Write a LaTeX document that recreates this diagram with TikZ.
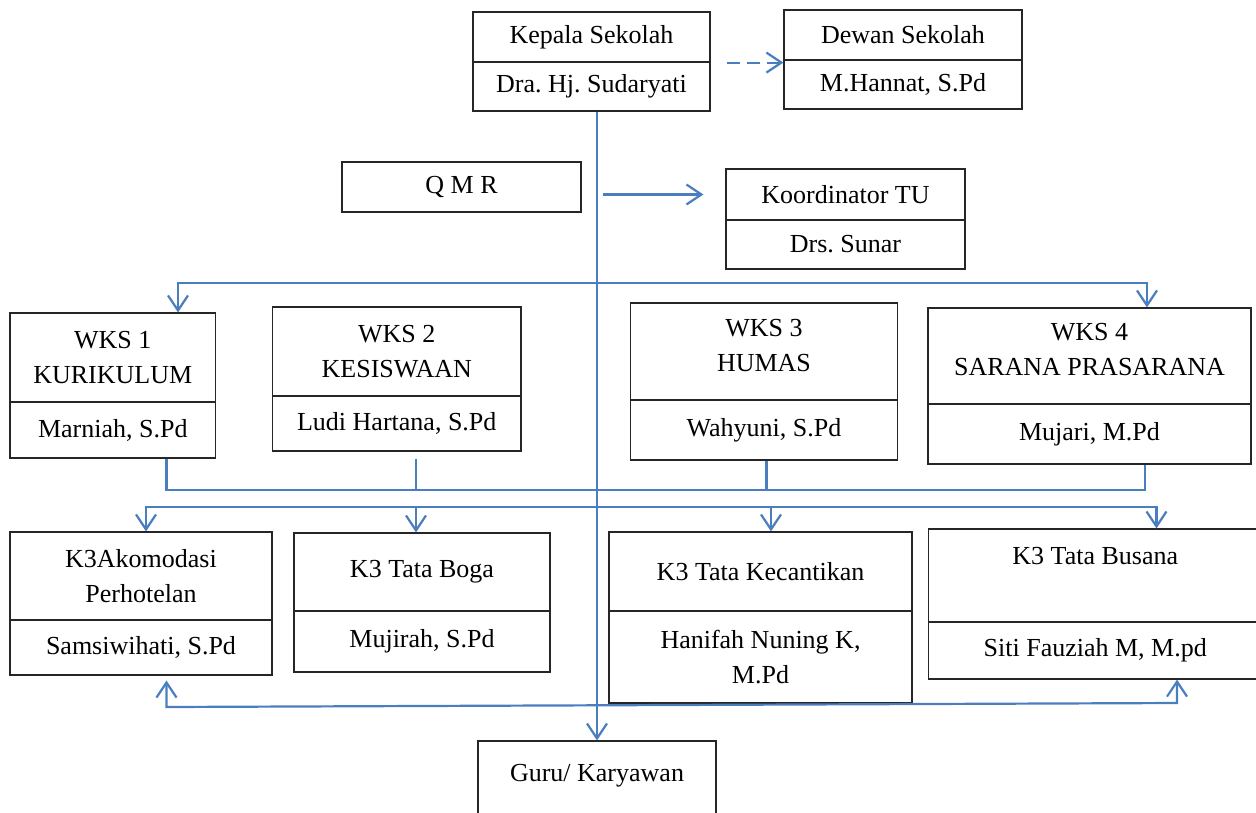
\documentclass[tikz,border=0pt]{standalone}
\usepackage{fontspec}
\setmainfont{Liberation Serif}
\usetikzlibrary{arrows.meta,calc}
\definecolor{linkblue}{RGB}{74,126,190}
\tikzset{every picture/.style={line width=0.75pt}}
\frenchspacing

\begin{document}
\begin{tikzpicture}[x=1pt,y=1pt,yscale=-1,xscale=1,
  >={Straight Barb[length=15pt,width=20pt]},
  cell/.style={draw=black!85,line width=1.2pt,rectangle,inner sep=0pt,align=center,font=\fontsize{26}{35}\selectfont},
  link/.style={draw=linkblue,line width=2.2pt}]
\useasboundingbox (0,0) rectangle (1256,812);

%Shape: Kepala / Dewan
\node[cell,minimum width=237pt,minimum height=50pt] (kepala) at (591.5,37) {Kepala Sekolah};
\node[cell,minimum width=237pt,minimum height=49pt] (kepalaN) at (591.5,86.5) {Dra. Hj. Sudaryati};
\node[cell,minimum width=238pt,minimum height=50pt] (dewan) at (903,35) {Dewan Sekolah};
\node[cell,minimum width=238pt,minimum height=49pt] (dewanN) at (903,84.5) {M.Hannat, S.Pd};
%Shape: QMR / TU
\node[cell,minimum width=239pt,minimum height=50pt] (qmr) at (461.5,187) {Q M R};
\node[cell,minimum width=239pt,minimum height=51pt] (koord) at (845.5,194.5) {Koordinator TU};
\node[cell,minimum width=239pt,minimum height=49pt] (koordN) at (845.5,244.5) {Drs. Sunar};
%Shape: WKS
\node[cell,minimum width=205.5pt,minimum height=89pt] (wks1) at (112.75,357.5) {WKS 1\\KURIKULUM};
\node[cell,minimum width=205.5pt,minimum height=56pt] (wks1N) at (112.75,430) {Marniah, S.Pd};
\node[cell,minimum width=248.5pt,minimum height=89pt] (wks2) at (396.75,351.5) {WKS 2\\KESISWAAN};
\node[cell,minimum width=248.5pt,minimum height=55pt] (wks2N) at (396.75,423.5) {Ludi Hartana, S.Pd};
\node[cell,minimum width=267pt,minimum height=97pt,text depth=12pt] (wks3) at (764,351.5) {WKS 3\\HUMAS};
\node[cell,minimum width=267pt,minimum height=60pt] (wks3N) at (764,430) {Wahyuni, S.Pd};
\node[cell,minimum width=323pt,minimum height=96pt,text depth=14pt] (wks4) at (1089.5,356) {WKS 4\\SARANA PRASARANA};
\node[cell,minimum width=323pt,minimum height=60pt] (wks4N) at (1089.5,434) {Mujari, M.Pd};
%Shape: K3
\node[cell,minimum width=262pt,minimum height=88pt] (k3a) at (141,576) {K3Akomodasi\\Perhotelan};
\node[cell,minimum width=262pt,minimum height=55pt] (k3aN) at (141,647.5) {Samsiwihati, S.Pd};
\node[cell,minimum width=256pt,minimum height=78pt] (k3b) at (422,572) {K3 Tata Boga};
\node[cell,minimum width=256pt,minimum height=61pt] (k3bN) at (422,641.5) {Mujirah, S.Pd};
\node[cell,minimum width=303pt,minimum height=79pt] (k3c) at (760.5,571.5) {K3 Tata Kecantikan};
\node[cell,minimum width=303pt,minimum height=92pt] (k3cN) at (760.5,657) {Hanifah Nuning K,\\M.Pd};
\node[cell,minimum width=333.5pt,minimum height=93pt,text height=18pt,text depth=40pt] (k3d) at (1095.25,575.5) {K3 Tata Busana};
\node[cell,minimum width=333.5pt,minimum height=57pt] (k3dN) at (1095.25,650.5) {Siti Fauziah M, M.pd};
%Shape: Guru
\node[cell,minimum width=238pt,minimum height=80pt,text height=18pt,text depth=18pt] (guru) at (597,781) {Guru/ Karyawan};

%Bus points
\coordinate (topbusW) at (178,283);
\coordinate (topbusE) at (1147,283);
\coordinate (midbusW) at (166.5,490);
\coordinate (midbusE) at (1145,490);
\coordinate (drop2) at (416,490);
\coordinate (drop3) at (766.5,490);
\coordinate (lowbusW) at (146,507);
\coordinate (lowbusE) at (1156.5,507);
\coordinate (tap2) at (416,507);
\coordinate (tap3) at (771,507);
\coordinate (footW) at (166.5,707);
\coordinate (footE) at (1177,703);

%Straight Lines
\draw[link,->,dash pattern=on 13pt off 7pt] ($(kepala.south east)+(16,0)$) -- (dewan.south west |- kepala.south east);
\draw[link,->] (kepalaN.south -| guru.north) -- (guru.north);
\draw[link,->] ($(guru.north |- koord.west)+(6,0)$) -- ($(koord.west)+(-22,0)$);
\draw[link,<->] (topbusW |- wks1.north) -- (topbusW) -- (topbusE) -- (topbusE |- wks4.north);
\draw[link] (midbusW |- wks1N.south) -- (midbusW) -- (midbusE) -- (midbusE |- wks4N.south);
\draw[link] ($(drop2 |- wks2N.south)+(0,7)$) -- (drop2);
\draw[link] (drop3 |- wks3N.south) -- (drop3);
\draw[link,<->] (lowbusW |- k3a.north) -- (lowbusW) -- (lowbusE) -- (lowbusE |- k3d.north);
\draw[link,->] (tap2) -- (tap2 |- k3b.north);
\draw[link,->] (tap3) -- (tap3 |- k3c.north);
\draw[link,<->] ($(footW |- k3aN.south)+(0,5)$) -- (footW) -- (footE) -- (footE |- k3dN.south);

\end{tikzpicture}
\end{document}
